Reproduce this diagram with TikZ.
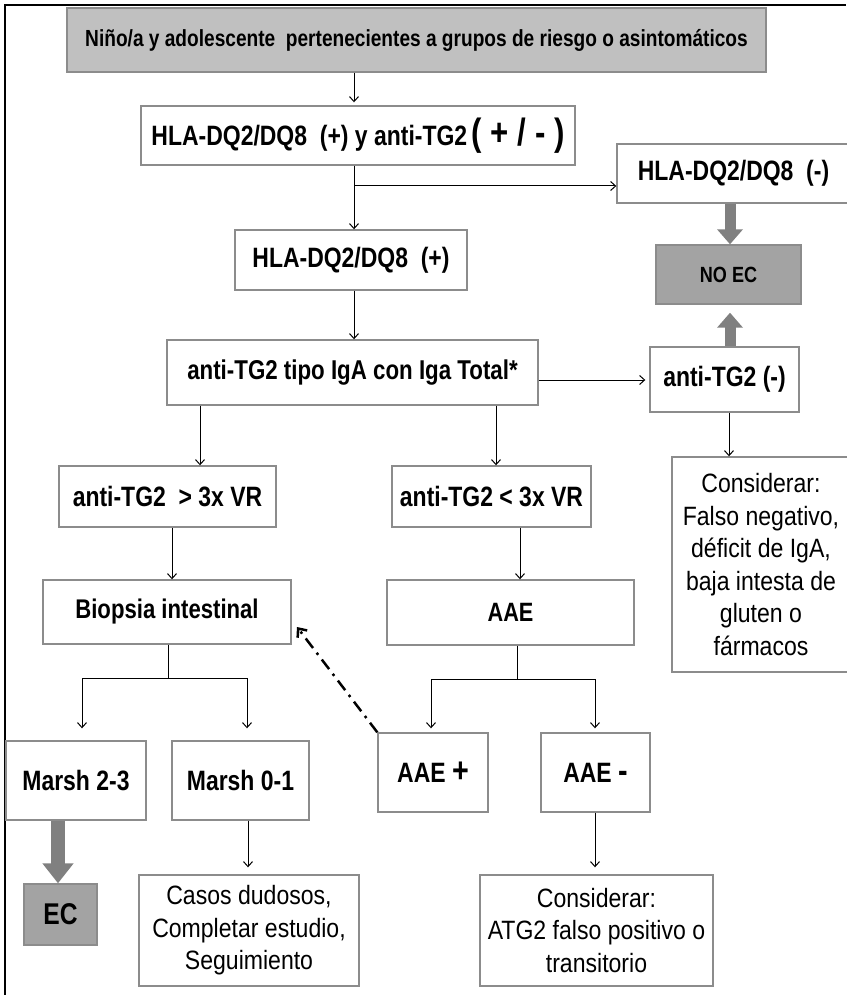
\documentclass[tikz,border=0pt]{standalone}
\usepackage{fontspec}
\setmainfont{Liberation Sans}
\newfontfamily\bnarrow{Liberation Sans}[FakeStretch=0.82]
\newfontfamily\rnarrow{Liberation Sans}[FakeStretch=0.87]
\usetikzlibrary{arrows.meta}
\definecolor{topfill}{RGB}{192,192,192}
\definecolor{darkfill}{RGB}{163,163,163}
\definecolor{bordergray}{RGB}{140,140,140}
\definecolor{arrgray}{RGB}{128,128,128}
\tikzset{
  box/.style={draw=bordergray, line width=1.4pt, fill=white, align=center, inner sep=0pt,
    font=\bnarrow\bfseries\fontsize{28}{32}\selectfont},
  txtbox/.style={box, font=\rnarrow\fontsize{26.5}{32.5}\selectfont},
  conn/.style={draw=black, line width=1pt, -{Straight Barb[length=5pt,width=9pt]}},
  plain/.style={draw=black, line width=1pt},
  thickarr/.style={draw=arrgray, line width=11pt, -{Triangle[length=15pt,width=25pt]}},
  bigarr/.style={draw=arrgray, line width=14pt, -{Triangle[length=20pt,width=30pt]}},
  dashdot/.style={draw=black, line width=2.5pt, dash pattern=on 12pt off 6pt on 2.5pt off 6pt,
    -{Straight Barb[length=7pt,width=12pt]}}
}
\begin{document}
\begin{tikzpicture}[x=1pt,y=-1pt]
\useasboundingbox (0,0) rectangle (846,995);
\fill[white] (0,0) rectangle (846,995);
% frame
\draw[line width=2.5pt] (5,995) -- (5,5) -- (846,5);

% nodes
\node[box, fill=topfill, minimum width=699pt, minimum height=64pt,
  font=\bnarrow\bfseries\fontsize{23.3}{26}\selectfont] (top) at (416.5,40)
  {Niño/a y adolescente\ \ pertenecientes a grupos de riesgo o asintomáticos};
\node[box, minimum width=434pt, minimum height=59pt] (hlaboth) at (358,135.5)
  {HLA-DQ2/DQ8\ \ (+) y anti-TG2\,{\fontsize{38}{38}\selectfont( + / - )}};
\node[box, minimum width=233pt, minimum height=59pt] (hlaneg) at (733.5,173.5)
  {HLA-DQ2/DQ8\ \ (-)};
\node[box, fill=darkfill, minimum width=145pt, minimum height=59pt,
  font=\bnarrow\bfseries\fontsize{22}{24}\selectfont] (noec) at (728.5,274.5) {NO EC};
\node[box, minimum width=232pt, minimum height=60pt] (hlapos) at (351,260)
  {HLA-DQ2/DQ8\ \ (+)};
\node[box, minimum width=371pt, minimum height=65pt,
  font=\bnarrow\bfseries\fontsize{27.2}{30}\selectfont] (tipo) at (352.5,372.5)
  {anti-TG2 tipo IgA con Iga Total*};
\node[box, minimum width=149pt, minimum height=65pt] (antineg) at (724.5,379.5)
  {anti-TG2 (-)};
\node[box, minimum width=217pt, minimum height=61pt] (gt3) at (167.5,496.5)
  {anti-TG2\ \ {>} 3x VR};
\node[box, minimum width=199pt, minimum height=61pt] (lt3) at (491.5,496.5)
  {anti-TG2 {<} 3x VR};
\node[txtbox, minimum width=178pt, minimum height=215pt] (cons1) at (761,564.5)
  {Considerar:\\Falso negativo,\\déficit de IgA,\\baja intesta de\\gluten o\\fármacos};
\node[box, minimum width=248pt, minimum height=64pt,
  font=\bnarrow\bfseries\fontsize{27}{30}\selectfont] (biopsia) at (167,612)
  {Biopsia intestinal};
\node[box, minimum width=247pt, minimum height=65pt,
  font=\bnarrow\bfseries\fontsize{26.5}{30}\selectfont] (aae) at (510.5,612.5) {AAE};
\node[box, minimum width=140pt, minimum height=79pt] (marsh23) at (76,780.5) {Marsh 2-3};
\node[box, minimum width=137pt, minimum height=79pt] (marsh01) at (240.5,780.5) {Marsh 0-1};
\node[box, minimum width=110pt, minimum height=79pt] (aaepos) at (433,772.5)
  {AAE {\fontsize{35}{35}\selectfont +}};
\node[box, minimum width=109pt, minimum height=79pt] (aaeneg) at (595.5,772.5)
  {AAE {\fontsize{35}{35}\selectfont -}};
\node[box, fill=darkfill, minimum width=73pt, minimum height=61pt,
  font=\bnarrow\bfseries\fontsize{30}{32}\selectfont] (ec) at (60.5,914.5) {EC};
\node[txtbox, minimum width=220pt, minimum height=111pt] (casos) at (249,930.5)
  {Casos dudosos,\\Completar estudio,\\Seguimiento};
\node[txtbox, minimum width=233pt, minimum height=111pt] (cons2) at (596.5,930.5)
  {Considerar:\\ATG2 falso positivo o\\transitorio};

% connectors
\coordinate (vx) at (354,0);
\coordinate (br) at (354,186);
\coordinate (tx) at (730,0);
\draw[conn, shorten >=3pt] (top.south -| vx) -- (hlaboth.north -| vx);
\draw[conn] (hlaboth.south -| vx) -- (hlapos.north -| vx);
\draw[conn] (br) -- (br -| hlaneg.west);
\draw[thickarr] (hlaneg.south -| tx) -- (noec.north -| tx);
\draw[thickarr, shorten >=8pt] (antineg.north -| tx) -- (noec.south -| tx);
\draw[conn] (hlapos.south -| vx) -- (tipo.north -| vx);
\coordinate (ty) at (0,380);
\draw[conn, shorten >=4pt] (tipo.east |- ty) -- (antineg.west |- ty);
\coordinate (l1) at (200,0);
\coordinate (l2) at (496,0);
\draw[conn] (tipo.south -| l1) -- (gt3.north -| l1);
\draw[conn] (tipo.south -| l2) -- (lt3.north -| l2);
\coordinate (cx) at (729,0);
\draw[conn] (antineg.south -| cx) -- (cons1.north -| cx);
\coordinate (g1) at (172,0);
\coordinate (g2) at (520,0);
\draw[conn] (gt3.south -| g1) -- (biopsia.north -| g1);
\draw[conn] (lt3.south -| g2) -- (aae.north -| g2);
% biopsia branch
\coordinate (bj) at (168,678);
\coordinate (m1) at (82,678);
\coordinate (m2) at (247,678);
\draw[plain] (biopsia.south -| bj) -- (bj);
\draw[plain] (m1) -- (m2);
\draw[conn, shorten >=12pt] (m1) -- (marsh23.north -| m1);
\draw[conn, shorten >=12pt] (m2) -- (marsh01.north -| m2);
% AAE branch
\coordinate (aj) at (517,679);
\coordinate (a1) at (431,679);
\coordinate (a2) at (595,679);
\draw[plain] (aae.south -| aj) -- (aj);
\draw[plain] (a1) -- (a2);
\draw[conn, shorten >=4pt] (a1) -- (aaepos.north -| a1);
\draw[conn, shorten >=4pt] (a2) -- (aaeneg.north -| a2);
% dash-dot back to biopsia
\coordinate (bx) at (297,627);
\draw[dashdot] (aaepos.north west) -- (bx);
% bottom
\coordinate (ex) at (58,0);
\draw[bigarr] (marsh23.south -| ex) -- (ec.north -| ex);
\coordinate (cx1) at (248,0);
\coordinate (cx2) at (595,0);
\draw[conn, shorten >=7pt] (marsh01.south -| cx1) -- (casos.north -| cx1);
\draw[conn, shorten >=7pt] (aaeneg.south -| cx2) -- (cons2.north -| cx2);
\end{tikzpicture}
\end{document}
